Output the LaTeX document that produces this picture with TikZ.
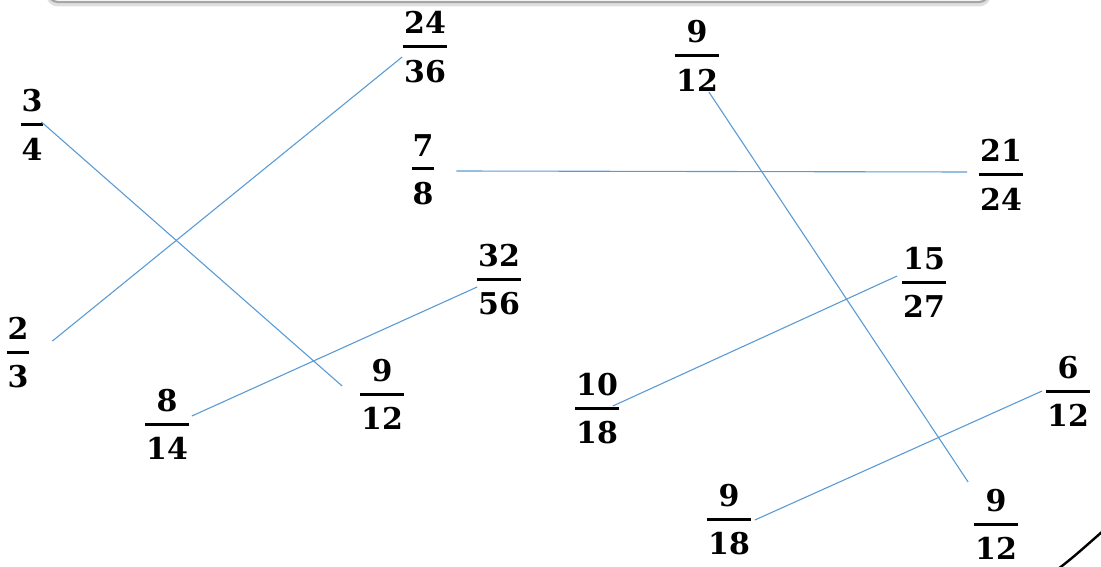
\documentclass[tikz,border=0pt]{standalone}
\usepackage{fontspec}
\setmainfont{DejaVu Serif}
\usepackage{tikz}
\usetikzlibrary{positioning}
\definecolor{linkblue}{HTML}{5B9BD5}
\definecolor{framegrey}{HTML}{A6A6A6}
\setlength{\arrayrulewidth}{3pt}
% stacked fraction, box symmetric about the bar
\newcommand\fr[2]{\begin{tabular}{@{\hspace{1pt}}c@{\hspace{1pt}}}\rule{0pt}{33.7pt}#1\\[0.7pt]\hline\rule{0pt}{34.4pt}#2\end{tabular}}
\tikzset{
  frac/.style={inner sep=0pt, outer sep=0pt, font=\fontsize{30}{36}\selectfont\bfseries},
  link/.style={draw=linkblue, line width=1.1pt},
}

\begin{document}
\begin{tikzpicture}[x=1pt, y=-1pt]
  \useasboundingbox (0,0) rectangle (1101,567);
  % frame of the slide above, only its lower edge shows
  \draw[gray!25, line width=4pt, rounded corners=10pt] (48,-40) rectangle (989,4.5);
  \draw[framegrey, line width=2.2pt, rounded corners=10pt, fill=white] (48,-40) rectangle (989,2);
  % the fractions, placed at the centre of their bars
  \foreach \n/\x/\y/\a/\b in {q34/32/125/3/4, q23/18/352/2/3, q814/167/424/8/14, q912m/382/394/9/12,
      q2436/425/47/24/36, q78/423/169/7/8, q3256/499/279/32/56, q912t/697/56/9/12,
      q1018/597/408/10/18, q1527/924/282/15/27, q2124/1001/175/21/24, q918/729/519/9/18,
      q612/1068/391/6/12, q912b/996/524/9/12}
    \node[frac] (\n) at (\x,\y) {\fr{\a}{\b}};
  % matching lines: from the east side of one to the west side of the other
  \foreach \a/\ax/\ay/\b/\bx/\by in {q34/-2/3/q912m/-18/8, q23/23/11/q2436/-1/-10, q78/22/-2/q2124/-12/3,
      q814/3/8/q3256/0/-8, q912t/-10/-36/q912b/-6/42, q1018/-6/2/q1527/-5/6, q918/4/-1/q612/-4/0}
    \draw[link] ([xshift=\ax pt, yshift=\ay pt]\a.east) -- ([xshift=\bx pt, yshift=\by pt]\b.west);
  % edge of the round shape in the corner
  \draw[black, line width=2.4pt] (1058,569) .. controls (1074,557) and (1088,544) .. (1103,531);
\end{tikzpicture}
\end{document}
